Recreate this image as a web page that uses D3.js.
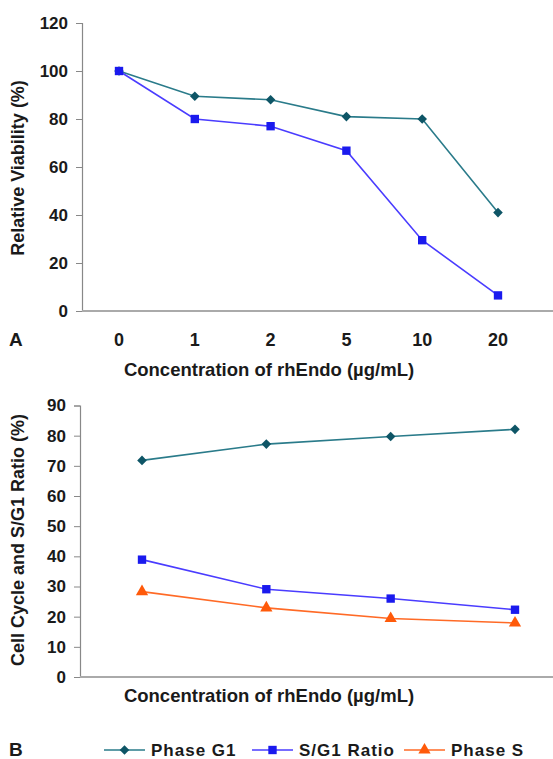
<!DOCTYPE html>
<html><head><meta charset="utf-8">
<script src="https://cdn.jsdelivr.net/npm/d3@7"></script>
<style>body{margin:0;background:#fff}svg text{font-family:"Liberation Sans",Arial,sans-serif;font-weight:bold;fill:#1a1a1a}</style>
</head><body><svg id="c" width="553" height="759"></svg>
<script>
// Panel A data
const concA = ["0","1","2","5","10","20"];
const viabG1 = [100, 89.5, 88, 81, 80, 41];
const viabSG1 = [100, 80, 77, 66.8, 29.5, 6.5];
const ticksA = [0,20,40,60,80,100,120];
// Panel B data
const concB = ["a","b","c","d"];
const phaseG1 = [71.8, 77.2, 79.7, 82.1];
const ratioSG1 = [38.9, 29.1, 26, 22.3];
const phaseS = [28.3, 22.9, 19.4, 17.9];
const ticksB = [0,10,20,30,40,50,60,70,80,90];
const legendLabels = ["Phase G1","S/G1 Ratio","Phase S"];

const svg = d3.select("#c");
const colG1 = "#2a7b8a", mkG1 = "#0e5566";
const colSG = "#4a3cff", mkSG = "#1a1aee";
const colS = "#ff6a26", mkS = "#ff5a0a";

const diamond = {sym:d3.symbolSquare, rot:45}, square = {sym:d3.symbolSquare, rot:0}, tri = {sym:d3.symbolTriangle, rot:0};

function drawPanel(cfg){
  const x = d3.scalePoint().domain(cfg.cats).range(cfg.xr);
  const y = d3.scaleLinear().domain(cfg.yd).range(cfg.yr);
  const g = svg.append("g");
  const ya = g.append("g").attr("transform",`translate(${cfg.ax},0)`)
    .call(d3.axisLeft(y).tickValues(cfg.ticks).tickSize(6).tickPadding(8));
  ya.select(".domain").attr("stroke","#888").attr("stroke-width",1.2);
  ya.selectAll(".tick line").attr("stroke","#888");
  ya.selectAll(".tick text").attr("font-size",17).attr("fill","#1a1a1a");
  g.append("line").attr("x1",cfg.ax).attr("x2",553).attr("y1",cfg.yr[0]).attr("y2",cfg.yr[0])
    .attr("stroke","#aaa").attr("stroke-width",2);
  if(cfg.showX){
    g.selectAll(".xl").data(cfg.cats).enter().append("text")
      .attr("x",d=>x(d)).attr("y",cfg.yr[0]+35).attr("text-anchor","middle")
      .attr("font-size",18).text(d=>d);
  }
  cfg.series.forEach(s=>{
    const line = d3.line().x((d,i)=>x(cfg.cats[i])).y(d=>y(d));
    g.append("path").attr("d",line(s.vals)).attr("fill","none").attr("stroke",s.col).attr("stroke-width",1.6);
    g.selectAll(null).data(s.vals).enter().append("path")
      .attr("transform",(d,i)=>`translate(${x(cfg.cats[i])},${y(d)}) rotate(${s.m.rot})`)
      .attr("d",d3.symbol().type(s.m.sym).size(s.size)).attr("fill",s.mk);
  });
  g.append("text").attr("transform",`translate(${cfg.tx},${cfg.tyc}) rotate(-90)`)
    .attr("text-anchor","middle").attr("font-size",cfg.tfs).text(cfg.ytitle);
  g.append("text").attr("x",269).attr("y",cfg.xty).attr("text-anchor","middle")
    .attr("font-size",18.5).text("Concentration of rhEndo (\u00b5g/mL)");
  return {x,y};
}

drawPanel({cats:concA, xr:[119,498], yd:[0,120], yr:[311,23], ax:82, ticks:ticksA, showX:true,
  tx:24, tyc:168, tfs:18, ytitle:"Relative Viability (%)", xty:376,
  series:[{vals:viabG1,col:colG1,mk:mkG1,m:diamond,size:46},
          {vals:viabSG1,col:colSG,mk:mkSG,m:square,size:70}]});

drawPanel({cats:concB, xr:[142,515], yd:[0,90], yr:[677,405.5], ax:80, ticks:ticksB, showX:false,
  tx:24, tyc:540, tfs:18, ytitle:"Cell Cycle and S/G1 Ratio (%)", xty:702,
  series:[{vals:phaseG1,col:colG1,mk:mkG1,m:diamond,size:46},
          {vals:ratioSG1,col:colSG,mk:mkSG,m:square,size:70},
          {vals:phaseS,col:colS,mk:mkS,m:tri,size:65}]});

svg.append("text").attr("x",9).attr("y",346).attr("font-size",19).attr("font-weight","normal").text("A");
svg.append("text").attr("x",9).attr("y",756).attr("font-size",19).attr("font-weight","normal").text("B");

const legX = [104, 252, 404];
const legCols = [[colG1,mkG1,diamond,46],[colSG,mkSG,square,70],[colS,mkS,tri,65]];
legendLabels.forEach((t,i)=>{
  const lg = svg.append("g").attr("transform",`translate(${legX[i]},750)`);
  lg.append("line").attr("x1",0).attr("x2",41).attr("stroke",legCols[i][0]).attr("stroke-width",1.6);
  lg.append("path").attr("transform",`translate(20.5,0) rotate(${legCols[i][2].rot})`).attr("d",d3.symbol().type(legCols[i][2].sym).size(legCols[i][3])).attr("fill",legCols[i][1]);
  lg.append("text").attr("x",47).attr("y",6).attr("font-size",17).attr("letter-spacing","1px").text(t);
});
</script></body></html>
